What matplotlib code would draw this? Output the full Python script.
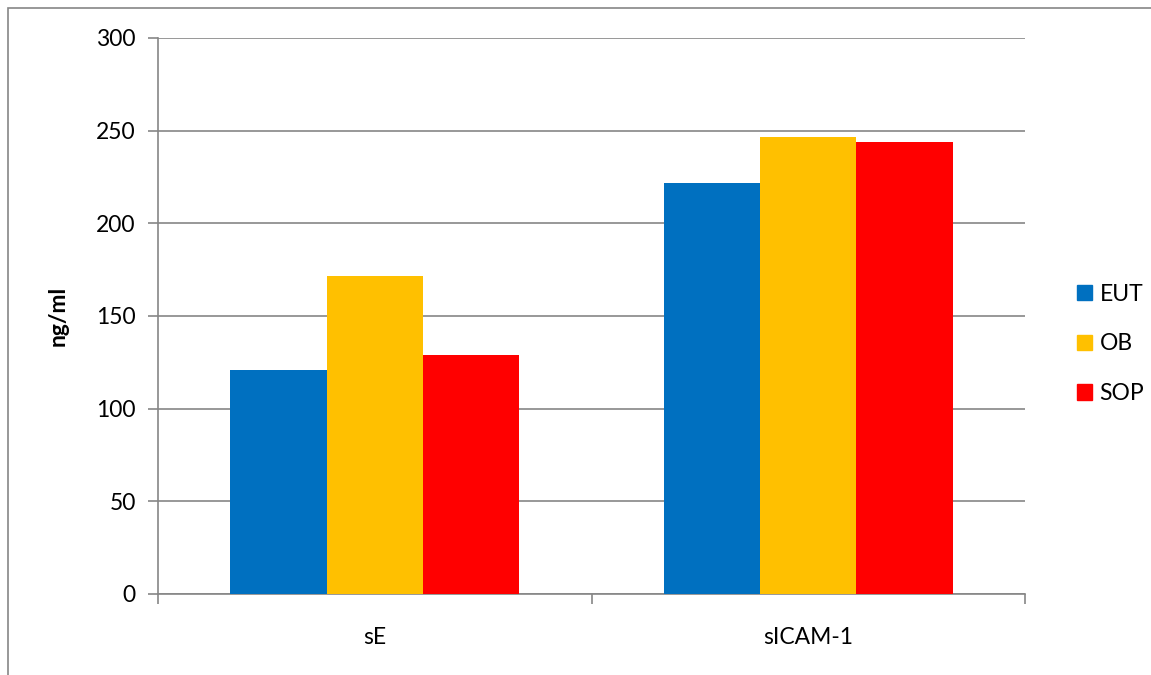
import matplotlib.pyplot as plt
from matplotlib.patches import Rectangle, Patch
import numpy as np

categories = ["sE", "sICAM-1"]
series = ["EUT", "OB", "SOP"]
values = {
    "EUT": [121, 222],
    "OB": [171.5, 246.5],
    "SOP": [129, 244],
}
colors = {"EUT": "#0070C0", "OB": "#FFC000", "SOP": "#FF0000"}
y_ticks = [0, 50, 100, 150, 200, 250, 300]

plt.rcParams['font.family'] = ['Lato', 'DejaVu Sans']
FS = 16.5

W, H = 1151, 675
fig = plt.figure(figsize=(W / 100, H / 100), dpi=100)
ax = fig.add_axes([158 / W, 1 - 594 / H, (1025 - 158) / W, (594 - 38) / H])

# outer chart frame
fig.patches.append(Rectangle((8 / W, -0.05), 1.2, 1 - 8 / H + 0.05,
                             transform=fig.transFigure, fill=False,
                             edgecolor="#868686", linewidth=1.2))

x = np.arange(len(categories))
bw = 2 / 9
for i, s in enumerate(series):
    ax.bar(x + (i - 1) * bw, values[s], width=bw, color=colors[s],
           zorder=3, label=s)

ax.set_xlim(-0.5, len(categories) - 0.5)
ax.set_ylim(0, 300)
ax.set_yticks(y_ticks)
ax.yaxis.grid(True, color="#868686", linewidth=1.2, zorder=0)
ax.set_xticks(x)
ax.set_xticklabels(categories, fontsize=FS)
ax.set_xticks([-0.5, 0.5, 1.5], minor=True)
ax.tick_params(axis="x", which="major", length=0, pad=24)
ax.tick_params(axis="x", which="minor", length=7, width=1.2, color="#868686")
ax.tick_params(axis="y", length=7, width=1.2, color="#868686", labelsize=FS, pad=9)

for sp in ["top", "right"]:
    ax.spines[sp].set_visible(False)
for sp in ["left", "bottom"]:
    ax.spines[sp].set_color("#868686")
    ax.spines[sp].set_linewidth(1.2)

ax.set_ylabel("ng/ml", fontsize=FS, fontweight="bold", labelpad=20)

handles = [Patch(color=colors[s], label=s) for s in series]
fig.legend(handles=handles, loc="center left", bbox_to_anchor=(1056 / W, 1 - 344 / H),
           frameon=False, fontsize=FS, handlelength=0.65, handleheight=0.65,
           handletextpad=0.35, labelspacing=1.25)

fig.savefig("out.png", dpi=100)
